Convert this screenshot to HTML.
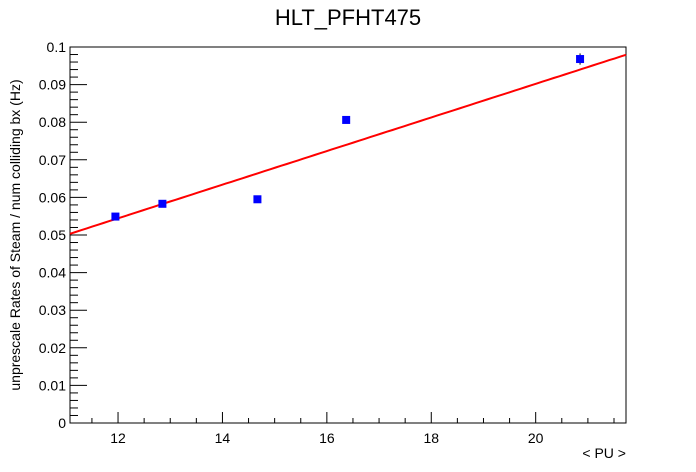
<!DOCTYPE html>
<html><head><meta charset="utf-8"><style>
body{margin:0;background:#fff;}
svg{display:block;font-family:"Liberation Sans",sans-serif;}
</style></head><body>
<svg id="c" width="696" height="472">
<text x="348" y="25" text-anchor="middle" font-size="22">HLT_PFHT475</text>
<text transform="translate(20,235) rotate(-90)" text-anchor="middle" font-size="14">unprescale Rates of Steam / num colliding bx (Hz)</text>
<text x="626" y="458" text-anchor="end" font-size="14">&lt; PU &gt;</text>
<g id="axes"></g><g id="fit"></g><g id="pts"></g>
</svg>
<script>
const puValues=[11.95,12.85,14.67,16.37,20.85];
const rateValues=[0.0549,0.0583,0.0595,0.0806,0.0968];
const rateErrors=[0.0006,0.0006,0.0006,0.0006,0.0015];
const fitParams=[0.0008,0.00447];
const xTicks=[12,14,16,18,20];
const yTicks=[0,0.01,0.02,0.03,0.04,0.05,0.06,0.07,0.08,0.09,0.1];
const yTickLabels=["0","0.01","0.02","0.03","0.04","0.05","0.06","0.07","0.08","0.09","0.1"];

const L=70,R=626,T=47,B=423,XMIN=11.08,XMAX=21.73,YMIN=0,YMAX=0.1;
const sx=v=>L+(v-XMIN)/(XMAX-XMIN)*(R-L);
const sy=v=>B-(v-YMIN)/(YMAX-YMIN)*(B-T);
const NS="http://www.w3.org/2000/svg";
function mk(t,a,p){const e=document.createElementNS(NS,t);for(const k in a)e.setAttribute(k,a[k]);p.appendChild(e);return e;}
const ax=document.getElementById('axes');
const frame=mk('rect',{x:L,y:T,width:R-L,height:B-T,fill:'none',stroke:'#000','stroke-width':1},ax);


for(let v=11.5;v<=XMAX;v+=0.5){
  const major=Math.abs(v/2-Math.round(v/2))<1e-6;
  const t=mk('line',{x1:sx(v),x2:sx(v),y1:B,y2:B-(major?11:5),stroke:'#000'},ax);
  
  
}
xTicks.forEach(v=>{
  const t=mk('text',{x:sx(v),y:B+20,'text-anchor':'middle','font-size':14},ax);t.textContent=v;
  
  
});
for(let i=0;i<=50;i++){
  const v=i*0.002,major=i%5==0;
  const t=mk('line',{x1:L,x2:L+(major?17:8),y1:sy(v),y2:sy(v),stroke:'#000'},ax);
  
  
}
yTicks.forEach((v,i)=>{
  const t=mk('text',{x:L-4,y:sy(v)+5,'text-anchor':'end','font-size':14},ax);t.textContent=yTickLabels[i];
  
  
});
const f=document.getElementById('fit');
let d='';for(let i=0;i<=100;i++){const x=XMIN+(XMAX-XMIN)*i/100;d+=(i?'L':'M')+sx(x).toFixed(1)+','+sy(fitParams[0]+fitParams[1]*x).toFixed(1);}
const fl=mk('path',{d:d,fill:'none',stroke:'#ff0000','stroke-width':2},f);


const p=document.getElementById('pts');
puValues.forEach((x,i)=>{
  const e=mk('line',{x1:sx(x),x2:sx(x),y1:sy(rateValues[i]+rateErrors[i]),y2:sy(rateValues[i]-rateErrors[i]),stroke:'#000'},p);
  
  
  const r=mk('rect',{x:sx(x)-4,y:sy(rateValues[i])-4,width:8,height:8,fill:'#0000ff'},p);
  
  
});
</script>
</body></html>
